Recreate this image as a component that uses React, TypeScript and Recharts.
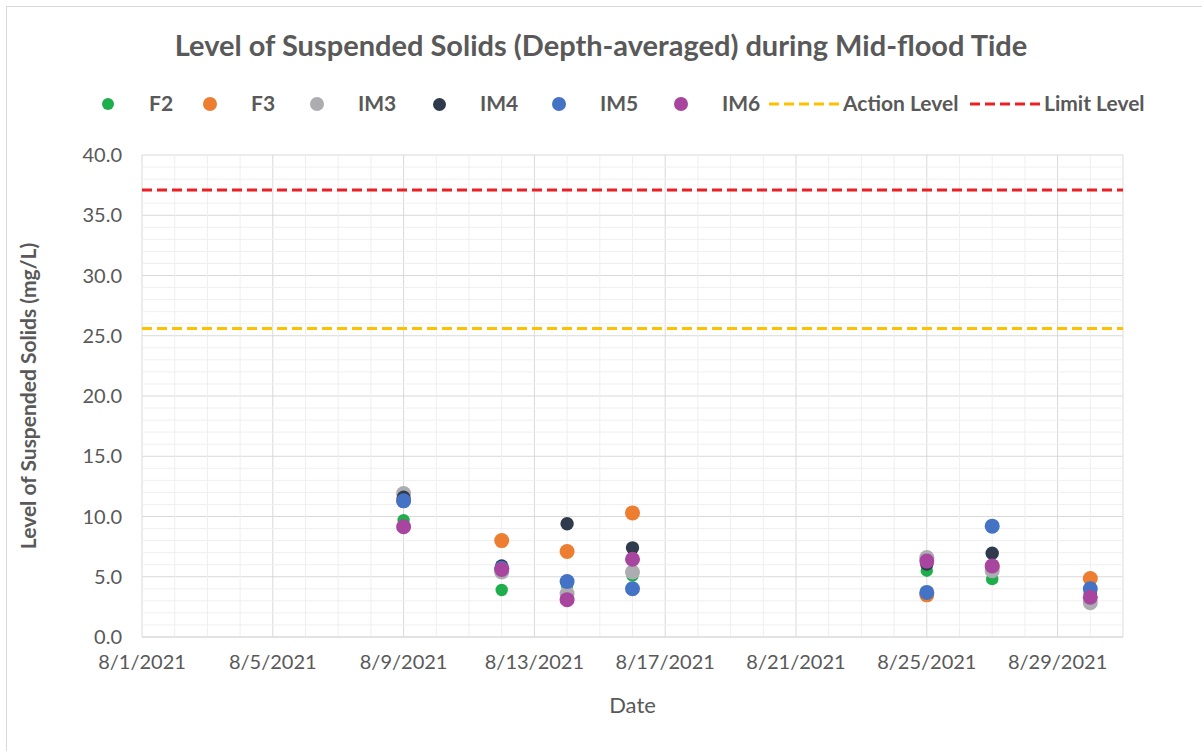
import React from 'react';
import {
    ScatterChart,
    Scatter,
    XAxis,
    YAxis,
    CartesianGrid,
    ReferenceLine,
    Legend,
} from 'recharts';

// sampling days in August 2021
const sampleDays = [9, 12, 14, 16, 25, 27, 30];

const f2 = [9.7, 3.9, 4.3, 5.1, 5.5, 4.8, 3.5];
const f3 = [11.4, 8.0, 7.1, 10.3, 3.5, 5.8, 4.85];
const im3 = [11.9, 5.4, 3.6, 5.4, 6.6, 5.5, 2.85];
const im4 = [11.6, 5.9, 9.4, 7.4, 6.05, 6.95, 3.6];
const im5 = [11.3, 5.7, 4.6, 4.0, 3.7, 9.2, 4.0];
const im6 = [9.15, 5.6, 3.1, 6.45, 6.3, 5.9, 3.3];

const actionLevel = 25.6;
const limitLevel = 37.1;

const xTicks = [1, 5, 9, 13, 17, 21, 25, 29];
const yTicks = [0, 5, 10, 15, 20, 25, 30, 35, 40];

const TEXT = '#595959';
const FONT = 'Lato, "Open Sans", sans-serif';

const series = [
    { name: 'F2', values: f2, color: '#1EAE4C', r: 6.2 },
    { name: 'F3', values: f3, color: '#ED7D31', r: 7.5 },
    { name: 'IM3', values: im3, color: '#ADADB1', r: 7.5 },
    { name: 'IM4', values: im4, color: '#2F3B4C', r: 6.7 },
    { name: 'IM5', values: im5, color: '#4472C4', r: 7.5 },
    { name: 'IM6', values: im6, color: '#A8469F', r: 7.5 },
];

const toPoints = (values: number[]) => sampleDays.map((d, i) => ({ x: d, y: values[i] }));

// minor gridlines: every day / every 1.0, skipping the major positions
const minorX = Array.from({ length: 31 }, (_, i) => i + 1).filter((d) => !xTicks.includes(d));
const minorY = Array.from({ length: 41 }, (_, i) => i).filter((v) => !yTicks.includes(v));

const legendItems = [
    { label: 'F2', color: '#1EAE4C', type: 'dot', left: 108, size: 12 },
    { label: 'F3', color: '#ED7D31', type: 'dot', left: 210, size: 14 },
    { label: 'IM3', color: '#ADADB1', type: 'dot', left: 317, size: 14 },
    { label: 'IM4', color: '#2F3B4C', type: 'dot', left: 439, size: 13 },
    { label: 'IM5', color: '#4472C4', type: 'dot', left: 559, size: 14 },
    { label: 'IM6', color: '#A8469F', type: 'dot', left: 681, size: 14 },
    { label: 'Action Level', color: '#FFC000', type: 'line', left: 769, size: 0 },
    { label: 'Limit Level', color: '#E82127', type: 'line', left: 970, size: 0 },
];

const LEGEND_H = 30;

function LegendContent() {
    return (
        <div style={{ position: 'relative', width: 1202, height: LEGEND_H }}>
            {legendItems.map((it) => (
                <div key={it.label}>
                    {it.type === 'dot' ? (
                        <div
                            style={{
                                position: 'absolute',
                                left: it.left - it.size / 2,
                                top: 15 - it.size / 2,
                                width: it.size,
                                height: it.size,
                                borderRadius: '50%',
                                background: it.color,
                            }}
                        />
                    ) : (
                        <svg style={{ position: 'absolute', left: it.left, top: 12 }} width={70} height={6}>
                            <line x1={0} y1={3} x2={70} y2={3} stroke={it.color} strokeWidth={3} strokeDasharray="10 5" />
                        </svg>
                    )}
                    <span
                        style={{
                            position: 'absolute',
                            left: it.type === 'dot' ? it.left + 41 : it.left + 74,
                            top: 1,
                            fontFamily: FONT,
                            fontWeight: 700,
                            fontSize: 21,
                            color: TEXT,
                            whiteSpace: 'nowrap',
                        }}
                    >
                        {it.label}
                    </span>
                </div>
            ))}
        </div>
    );
}

export default function App() {
    return (
        <div style={{ position: 'absolute', left: 0, top: 0, width: 1202, height: 751, background: '#fff', overflow: 'hidden' }}>
            <div
                style={{
                    position: 'absolute',
                    left: 6,
                    top: 6,
                    width: 1210,
                    height: 760,
                    border: '1px solid #d9d9d9',
                }}
            />
            <div
                style={{
                    position: 'absolute',
                    left: 0,
                    top: 27,
                    width: 1202,
                    textAlign: 'center',
                    fontFamily: FONT,
                    fontWeight: 700,
                    fontSize: 29,
                    color: TEXT,
                }}
            >
                Level of Suspended Solids (Depth-averaged) during Mid-flood Tide
            </div>
            <div style={{ position: 'absolute', left: 0, top: 0 }}>
                <ScatterChart width={1202} height={751} margin={{ top: 155 - LEGEND_H, right: 79, bottom: 44, left: 0 }}>
                    {minorX.map((d) => (
                        <ReferenceLine key={'mx' + d} x={d} stroke="#efefef" strokeWidth={1} />
                    ))}
                    {minorY.map((v) => (
                        <ReferenceLine key={'my' + v} y={v} stroke="#efefef" strokeWidth={1} />
                    ))}
                    <CartesianGrid stroke="#d9d9d9" strokeWidth={1} />
                    <XAxis
                        type="number"
                        dataKey="x"
                        domain={[1, 31]}
                        ticks={xTicks}
                        tickFormatter={(d) => `8/${d}/2021`}
                        stroke="#d9d9d9"
                        tickLine={false}
                        tickSize={0}
                        tickMargin={18}
                        height={70}
                        tick={{ fill: TEXT, fontSize: 20, fontFamily: FONT }}
                        allowDataOverflow
                        label={{
                            content: ({ viewBox }: any) => (
                                <text
                                    x={viewBox.x + viewBox.width / 2}
                                    y={viewBox.y + 76}
                                    textAnchor="middle"
                                    fill={TEXT}
                                    fontSize={22}
                                    fontFamily={FONT}
                                >
                                    Date
                                </text>
                            ),
                        }}
                    />
                    <YAxis
                        type="number"
                        dataKey="y"
                        domain={[0, 40]}
                        ticks={yTicks}
                        tickFormatter={(v) => v.toFixed(1)}
                        axisLine={false}
                        tickLine={false}
                        tickSize={0}
                        tickMargin={20}
                        width={142}
                        tick={{ fill: TEXT, fontSize: 20, fontFamily: FONT }}
                        label={{
                            content: ({ viewBox }: any) => {
                                const cx = viewBox.x + 36;
                                const cy = viewBox.y + viewBox.height / 2;
                                return (
                                    <text
                                        transform={`translate(${cx},${cy}) rotate(-90)`}
                                        textAnchor="middle"
                                        fill={TEXT}
                                        fontSize={21}
                                        fontWeight={700}
                                        fontFamily={FONT}
                                    >
                                        Level of Suspended Solids (mg/L)
                                    </text>
                                );
                            },
                        }}
                    />
                    <ReferenceLine y={actionLevel} stroke="#FFC000" strokeWidth={3} strokeDasharray="10 5" />
                    <ReferenceLine y={limitLevel} stroke="#E82127" strokeWidth={3} strokeDasharray="10 5" />
                    {series.map((s) => (
                        <Scatter
                            key={s.name}
                            name={s.name}
                            data={toPoints(s.values)}
                            fill={s.color}
                            isAnimationActive={false}
                            shape={(p: any) => <circle cx={p.cx} cy={p.cy} r={s.r} fill={s.color} />}
                        />
                    ))}
                    <Legend
                        verticalAlign="top"
                        content={() => <LegendContent />}
                        wrapperStyle={{ position: 'absolute', left: 0, top: 89, width: 1202 }}
                    />
                </ScatterChart>
            </div>
        </div>
    );
}
